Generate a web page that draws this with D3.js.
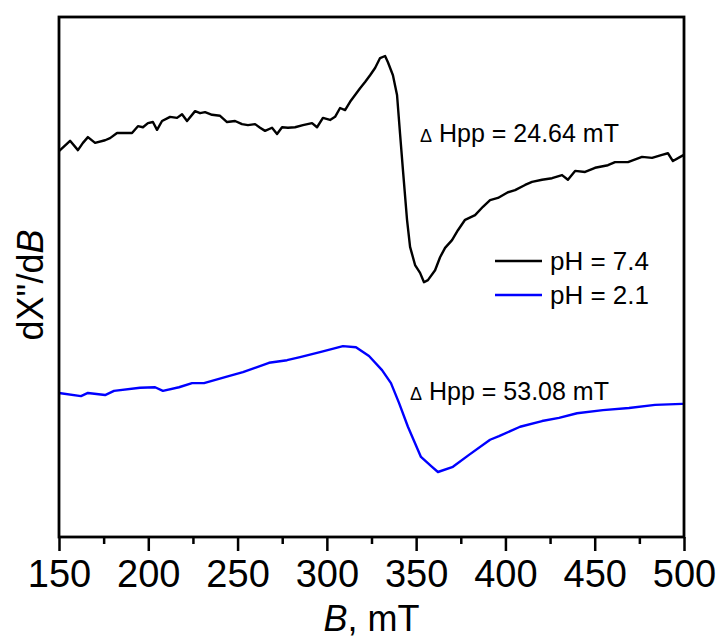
<!DOCTYPE html>
<html><head><meta charset="utf-8">
<script src="https://cdn.jsdelivr.net/npm/d3@7"></script>
<style>body{margin:0;background:#fff}</style>
</head><body>
<svg id="chart" width="722" height="639"></svg>
<script>
// pH = 7.4 spectrum (B in mT, dX''/dB in arbitrary units)
const fieldPH74 = [150,156.2,160.6,163.4,166.2,170.2,175.8,178.6,182.5,185.3,190.9,194.2,197.0,199.8,202.6,204.9,207.7,212.2,216.1,218.9,221.7,226.2,229.0,231.8,235.7,240.2,244.1,248.6,252.5,255.8,259.8,262.6,265.4,269.3,272.1,274.9,278.2,282.2,286.6,291.7,294.5,297.8,301.8,304.6,307.4,310.2,313.0,315.8,318.6,321.4,324.2,327.0,329.8,332.6,334.2,337.0,339.3,341.0,342.6,344.9,346.6,349.4,352.2,354.4,356.6,360.6,363.4,366.2,370.1,373.4,377.4,383.0,387.4,391.4,395.8,401.4,405.4,411.0,414.9,420.5,426.1,431.7,435.0,439.0,444.6,450.2,457.4,461.4,468.6,476.5,482.1,487.7,491.0,493.8,498.9,500];
const signalPH74 = [74.2,76.2,74.4,75.8,76.9,75.8,76.3,76.7,77.7,77.7,77.7,79.0,78.8,79.6,79.8,78.3,80.0,80.8,80.6,81.3,80.0,81.9,81.5,81.7,81.2,81.0,79.8,80.0,79.4,79.2,79.4,78.7,78.1,78.7,77.5,78.8,78.7,78.8,79.2,79.6,78.8,80.6,80.2,80.8,82.5,82.1,83.7,85.0,86.3,87.5,88.8,90.2,92.1,92.5,91.3,88.8,85.0,77.5,70.6,61.0,55.8,52.3,50.8,49.0,49.4,51.3,53.8,55.6,57.1,59.0,61.0,61.9,63.5,64.8,65.2,66.3,66.7,67.7,68.3,68.7,69.0,69.6,68.7,70.4,70.2,71.0,71.5,72.1,72.1,73.1,72.9,73.5,73.8,72.3,73.3,73.5];
// pH = 2.1 spectrum
const fieldPH21 = [150,162.3,166.2,175.8,180.8,195.4,203.8,208.2,217.2,224.5,231.2,243.5,253.0,267.6,277.7,285.0,296.7,309.0,316.3,323.6,330.9,335.9,340.4,345.4,352.7,358.9,362.2,370.6,379.6,391.4,396.4,408.2,420.5,430.0,440.1,454.6,469.2,483.8,498.9,500];
const signalPH21 = [27.7,27.1,27.7,27.3,28.1,28.7,28.8,28.1,28.8,29.6,29.6,30.8,31.7,33.5,34.0,34.6,35.6,36.7,36.5,34.8,32.1,29.6,25.8,21.2,15.4,13.5,12.5,13.5,15.8,18.7,19.4,21.2,22.3,22.9,23.8,24.4,24.8,25.4,25.6,25.6];

const xTicks = [150,200,250,300,350,400,450,500];
const xMinorTicks = [175,225,275,325,375,425,475];
const seriesNames = ["pH = 7.4","pH = 2.1"];
const seriesColors = ["#000000","#0000ff"];
const hppLabels = ["24.64 mT","53.08 mT"];

const svg = d3.select("#chart");
const M = {left:59, right:684, top:17, bottom:537};
const x = d3.scaleLinear().domain([150,500]).range([M.left, M.right]);
const y = d3.scaleLinear().domain([0,100]).range([M.bottom, M.top]);
const font = "Liberation Sans, Arial, Helvetica, sans-serif";

const line = d3.line().x(d => x(d[0])).y(d => y(d[1]));
const data74 = fieldPH74.map((b,i) => [b, signalPH74[i]]);
const data21 = fieldPH21.map((b,i) => [b, signalPH21[i]]);

svg.append("path").datum(data74).attr("d", line)
  .attr("fill","none").attr("stroke",seriesColors[0]).attr("stroke-width",2.4).attr("stroke-linejoin","round");
svg.append("path").datum(data21).attr("d", line)
  .attr("fill","none").attr("stroke",seriesColors[1]).attr("stroke-width",2.4).attr("stroke-linejoin","round");

// frame
svg.append("rect").attr("x",M.left).attr("y",M.top)
  .attr("width",M.right-M.left).attr("height",M.bottom-M.top)
  .attr("fill","none").attr("stroke","#000").attr("stroke-width",2.8);

// bottom axis
const gx = svg.append("g").attr("transform",`translate(0,${M.bottom})`)
  .call(d3.axisBottom(x).tickValues(xTicks).tickSize(14).tickPadding(9).tickFormat(d3.format("d")));
gx.select(".domain").remove();
gx.selectAll(".tick line").attr("stroke-width",2.5);
gx.selectAll(".tick text").attr("font-family",font).attr("font-size",38).attr("fill","#000");
const gm = svg.append("g").attr("transform",`translate(0,${M.bottom})`)
  .call(d3.axisBottom(x).tickValues(xMinorTicks).tickSize(7).tickFormat(""));
gm.select(".domain").remove();
gm.selectAll(".tick line").attr("stroke-width",2.5);

// axis titles
const xt = svg.append("text").attr("x",(M.left+M.right)/2).attr("y",631)
  .attr("text-anchor","middle").attr("font-family",font).attr("font-size",36);
xt.append("tspan").attr("font-style","italic").text("B");
xt.append("tspan").text(", mT");

const yt = svg.append("text").attr("transform","translate(43,285) rotate(-90)")
  .attr("text-anchor","middle").attr("font-family",font).attr("font-size",36);
yt.append("tspan").text("dX\"/d");
yt.append("tspan").attr("font-style","italic").text("B");

// legend
seriesNames.forEach((name,i) => {
  const ly = 261 + i*34;
  svg.append("line").attr("x1",495).attr("x2",542).attr("y1",ly).attr("y2",ly)
    .attr("stroke",seriesColors[i]).attr("stroke-width",2.5);
  svg.append("text").attr("x",550).attr("y",ly+9).attr("font-family",font)
    .attr("font-size",26).text(name);
});

// annotations
const annPos = [[420,142],[410,400]];
hppLabels.forEach((lab,i) => {
  const t = svg.append("text").attr("x",annPos[i][0]).attr("y",annPos[i][1])
    .attr("font-family",font).attr("font-size",25);
  t.append("tspan").attr("font-size",18).text("\u0394");
  t.append("tspan").text(" Hpp = " + lab);
});
</script>
</body></html>
